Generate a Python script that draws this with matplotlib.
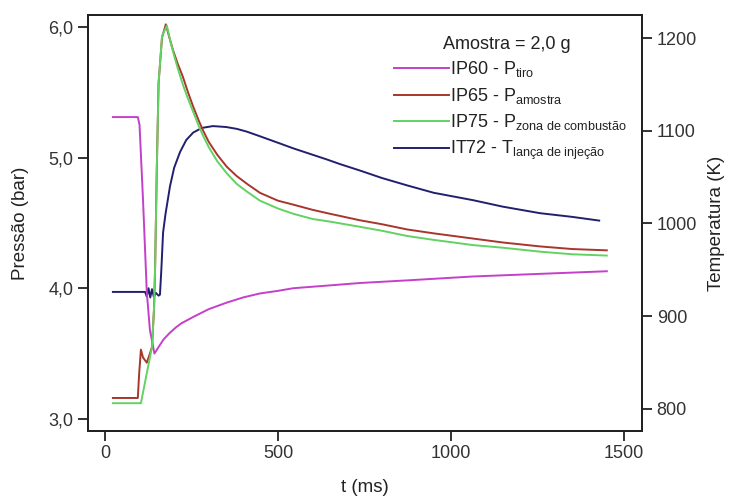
import numpy as np
import matplotlib
matplotlib.use("Agg")
import matplotlib.pyplot as plt

plt.rcParams['font.family'] = ['Liberation Sans', 'DejaVu Sans']
plt.rcParams['mathtext.fontset'] = 'custom'
plt.rcParams['mathtext.rm'] = 'Liberation Sans'
plt.rcParams['mathtext.it'] = 'Liberation Sans'

# IP60 - pressao de tiro (bar)
t_tiro = [23, 95, 100, 110, 121, 130, 143, 155, 170, 188, 205, 220, 255, 300, 352,
          400, 448, 500, 544, 641, 737, 873, 1000, 1064, 1257, 1450]
p_tiro = [5.31, 5.31, 5.25, 4.68, 3.97, 3.68, 3.50, 3.55, 3.61, 3.66, 3.70, 3.73,
          3.78, 3.84, 3.89, 3.93, 3.96, 3.98, 4.00, 4.02, 4.04, 4.06, 4.08, 4.09,
          4.11, 4.13]

# IP65 - pressao na amostra (bar)
t_amostra = [23, 95, 99, 104, 110, 121, 130, 136, 142, 145, 150, 155, 165, 176,
             185, 197, 210, 225, 240, 255, 270, 283, 300, 325, 352, 380, 410, 448,
             500, 544, 600, 650, 737, 800, 873, 950, 1064, 1150, 1257, 1350, 1450]
p_amostra = [3.16, 3.16, 3.35, 3.53, 3.47, 3.43, 3.50, 3.55, 3.85, 4.16, 4.93, 5.57,
             5.92, 6.02, 5.93, 5.82, 5.72, 5.62, 5.50, 5.39, 5.29, 5.21, 5.12, 5.02,
             4.93, 4.86, 4.80, 4.73, 4.67, 4.64, 4.60, 4.57, 4.52, 4.49, 4.45, 4.42,
             4.38, 4.35, 4.32, 4.30, 4.29]

# IP75 - pressao na zona de combustao (bar)
t_zona = [23, 104, 121, 136, 142, 145, 150, 155, 165, 179, 190, 200, 212, 225, 240,
          255, 270, 283, 300, 325, 352, 380, 410, 448, 500, 544, 600, 650, 737, 800,
          873, 950, 1064, 1150, 1257, 1350, 1450]
p_zona = [3.12, 3.12, 3.35, 3.55, 3.85, 4.16, 4.93, 5.57, 5.93, 6.01, 5.88, 5.78,
          5.67, 5.56, 5.45, 5.35, 5.25, 5.17, 5.08, 4.97, 4.88, 4.80, 4.74, 4.67,
          4.61, 4.57, 4.53, 4.51, 4.47, 4.44, 4.40, 4.37, 4.33, 4.31, 4.28, 4.26,
          4.25]

# IT72 - temperatura na lanca de injecao (K)
t_lanca = [23, 116, 121, 126, 131, 136, 141, 147, 155, 159, 163, 168, 175, 188, 200,
           217, 235, 255, 280, 312, 350, 381, 410, 448, 500, 544, 641, 679, 737, 800,
           873, 950, 1064, 1150, 1257, 1350, 1428]
T_lanca = [926, 926, 921, 930, 920, 929, 921, 925, 922, 923, 950, 990, 1010, 1040,
           1060, 1077, 1090, 1098, 1103, 1105, 1104, 1102, 1099, 1094, 1087, 1081,
           1069, 1064, 1057, 1049, 1041, 1033, 1025, 1018, 1011, 1007, 1003]

fig = plt.figure(figsize=(7.33, 4.97), dpi=100)
ax = fig.add_axes([0.120, 0.133, 0.756, 0.837])
ax2 = ax.twinx()

l1, = ax.plot(t_tiro, p_tiro, color='#c440c8', lw=1.4,
              label=r'IP60 - P$_{\mathrm{tiro}}$')
l2, = ax.plot(t_amostra, p_amostra, color='#a8362c', lw=1.4,
              label=r'IP65 - P$_{\mathrm{amostra}}$')
l3, = ax.plot(t_zona, p_zona, color='#62d262', lw=1.4,
              label=r'IP75 - P$_{\mathrm{zona\ de\ combustão}}$')
l4, = ax2.plot(t_lanca, T_lanca, color='#20206e', lw=1.4,
               label=r'IT72 - T$_{\mathrm{lança\ de\ injeção}}$')
# keep the pressure curves drawn over the temperature curve
ax.set_zorder(ax2.get_zorder() + 1)
ax.patch.set_visible(False)

ax.set_xlim(-49, 1552)
ax.set_ylim(2.908, 6.092)
ax2.set_ylim(776, 1225)
ax.set_xticks([0, 500, 1000, 1500])
ax.set_yticks([3, 4, 5, 6])
ax.set_yticklabels(['3,0', '4,0', '5,0', '6,0'])
ax2.set_yticks([800, 900, 1000, 1100, 1200])

for a in (ax, ax2):
    for s in a.spines.values():
        s.set_linewidth(1.4)
        s.set_color('#222222')
    a.tick_params(direction='out', length=7, width=1.3, labelsize=13,
                  colors='#222222', labelcolor='#333333')

ax.set_xlabel('t (ms)', fontsize=13.5, color='#222222', labelpad=12)
ax.set_ylabel('Pressão (bar)', fontsize=13.5, color='#222222', labelpad=14)
ax2.set_ylabel('Temperatura (K)', fontsize=13.5, color='#222222', labelpad=8)

ax.text(0.641, 0.928, 'Amostra = 2,0 g', transform=ax.transAxes,
        fontsize=13, va='center', ha='left', color='#222222')
leg = ax.legend(handles=[l1, l2, l3, l4], loc='upper left',
                bbox_to_anchor=(0.553, 0.893), frameon=False, fontsize=13,
                handlelength=3.0, handletextpad=0.1, labelspacing=0.36,
                borderpad=0, borderaxespad=0)
for txt in leg.get_texts():
    txt.set_color('#222222')

fig.savefig('out.png', dpi=100)
